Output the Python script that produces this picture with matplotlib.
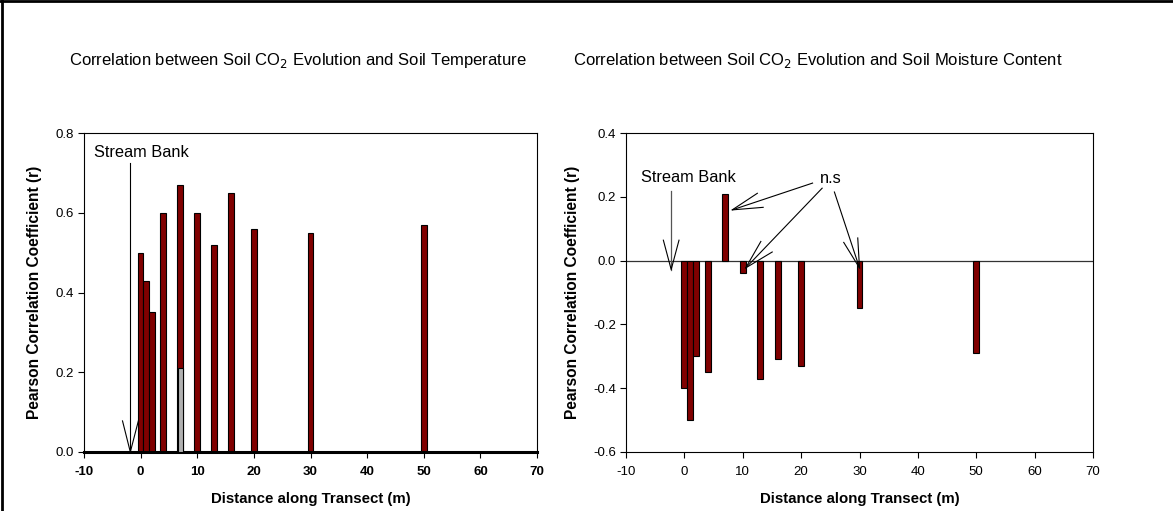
import matplotlib
matplotlib.use("Agg")
import matplotlib.pyplot as plt
from matplotlib.lines import Line2D

plt.rcParams['font.family'] = ['Liberation Sans', 'DejaVu Sans']

distance = [0, 1, 2, 4, 7, 10, 13, 16, 20, 30, 50]
r_temperature = [0.50, 0.43, 0.35, 0.60, 0.67, 0.60, 0.52, 0.65, 0.56, 0.55, 0.57]
r_moisture = [-0.40, -0.50, -0.30, -0.35, 0.21, -0.04, -0.37, -0.31, -0.33, -0.15, -0.29]
gray_x = [7]
gray_val = [0.21]

xticks = [-10, 0, 10, 20, 30, 40, 50, 60, 70]
yticks_t = [0.0, 0.2, 0.4, 0.6, 0.8]
yticks_m = [-0.6, -0.4, -0.2, 0.0, 0.2, 0.4]

title_t = "Correlation between Soil CO$_2$ Evolution and Soil Temperature"
title_m = "Correlation between Soil CO$_2$ Evolution and Soil Moisture Content"
xlabel = "Distance along Transect (m)"
ylabel = "Pearson Correlation Coefficient (r)"

W, H = 1173, 511
fig = plt.figure(figsize=(W / 100, H / 100), dpi=100)

def px(x0, y0, x1, y1):
    return [x0 / W, 1 - y1 / H, (x1 - x0) / W, (y1 - y0) / H]

barc = '#800000'

# left
ax1 = fig.add_axes(px(84, 133, 537, 452))
ax1.bar(distance, r_temperature, width=1.0, color=barc, edgecolor='black', linewidth=0.8, zorder=2)
ax1.bar(gray_x, gray_val, width=0.8, color='#b0b0b0', edgecolor='black', linewidth=0.8, zorder=3)
ax1.set_xlim(-10, 70)
ax1.set_ylim(0, 0.8)
ax1.set_xticks(xticks)
ax1.set_yticks(yticks_t)
ax1.set_yticklabels([f"{v:.1f}" for v in yticks_t], fontsize=9.5)
ax1.set_xticklabels([str(v) for v in xticks], fontweight='bold', fontsize=9.5)
ax1.spines['bottom'].set_linewidth(2.2)

# right
ax2 = fig.add_axes(px(626, 133, 1093, 452))
ax2.bar(distance, r_moisture, width=1.0, color=barc, edgecolor='black', linewidth=0.8, zorder=2)
ax2.axhline(0, color='#333333', linewidth=0.9, zorder=1)
ax2.set_xlim(-10, 70)
ax2.set_ylim(-0.6, 0.4)
ax2.set_xticks(xticks)
ax2.set_yticks(yticks_m)
ax2.set_yticklabels([f"{v:.1f}" for v in yticks_m], fontsize=9.5)
ax2.set_xticklabels([str(v) for v in xticks], fontsize=9.5)

for ax in (ax1, ax2):
    for s in ax.spines.values():
        s.set_color('black')
    ax.spines['top'].set_linewidth(0.8)
    ax.spines['right'].set_linewidth(0.8)
    ax.spines['left'].set_linewidth(0.8)
    if ax is ax2:
        ax.spines['bottom'].set_linewidth(0.8)
    ax.tick_params(direction='out', length=4, width=0.8, top=False, right=False)
    ax.tick_params(axis='x', pad=6)
    ax.tick_params(axis='y', pad=3)
    ax.set_xlabel(xlabel, fontsize=10.8, fontweight='bold', labelpad=10)
    ax.set_ylabel(ylabel, fontsize=11.2, fontweight='bold', labelpad=10)

fig.text(298 / W, 1 - 60 / H, title_t, ha='center', va='center', fontsize=12)
fig.text(818 / W, 1 - 60 / H, title_m, ha='center', va='center', fontsize=12)

# annotations (left)
lk = dict(color='black', linewidth=0.8)
ax1.text(-8.2, 0.751, "Stream Bank", fontsize=11.8, va='center', ha='left')
ax1.plot([-1.82, -1.82], [0.726, 0.0], **lk)
ax1.plot([-3.2, -1.82, -0.4], [0.078, 0.0, 0.078], **lk)

# annotations (right)
ax2.text(-7.4, 0.26, "Stream Bank", fontsize=11.8, va='center', ha='left')
ax2.plot([-2.26, -2.26], [0.219, -0.028], color='#555555', linewidth=0.9)
ax2.plot([-3.6, -2.26, -0.92], [0.064, -0.028, 0.064], **lk)
ax2.text(25.1, 0.258, "n.s", fontsize=11.8, va='center', ha='center')
ax2.plot([21.96, 8.2], [0.243, 0.159], **lk)
ax2.plot([12.5, 8.2, 13.5], [0.211, 0.159, 0.167], **lk)
ax2.plot([23.6, 10.5], [0.227, -0.023], **lk)
ax2.plot([13.1, 10.5, 15.05], [0.06, -0.023, 0.027], **lk)
ax2.plot([25.7, 30.0], [0.215, -0.023], **lk)
ax2.plot([27.3, 30.0, 29.7], [0.057, -0.023, 0.071], **lk)

# figure frame (left and top)
fig.add_artist(Line2D([1.5 / W, 1.5 / W], [0, 1 - 1.5 / H], color='black', linewidth=2, transform=fig.transFigure))
fig.add_artist(Line2D([0, 1], [1 - 1.5 / H, 1 - 1.5 / H], color='black', linewidth=2, transform=fig.transFigure))

fig.savefig("out.png", dpi=100)
